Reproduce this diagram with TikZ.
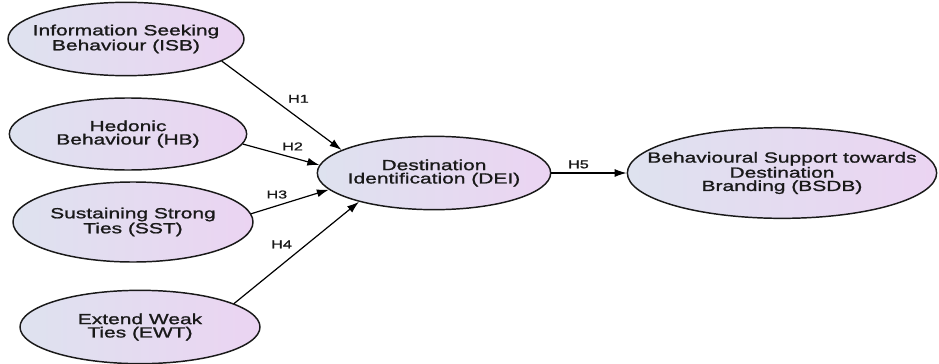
\documentclass[tikz,border=0pt]{standalone}
\usepackage{fontspec}
\newfontfamily\diagfont[FakeStretch=1.43, FakeBold=1.2]{Liberation Sans}
\usetikzlibrary{arrows.meta}
\usetikzlibrary{shapes.geometric}
\definecolor{fillleft}{RGB}{222,226,239}
\definecolor{fillright}{RGB}{235,212,242}
\tikzset{
      construct/.style={ellipse, draw=black!90, line width=1.1pt, left color=fillleft, right color=fillright,
            minimum width=177pt, minimum height=55pt, inner sep=0pt},
      every label/.style={font=\diagfont\fontsize{11}{10}\selectfont, align=center, inner sep=0pt, text=black!90},
      path/.style={draw=black, line width=0.9pt, -{Latex[length=9pt, width=6pt]}},
      hyp/.style={font=\diagfont\fontsize{8.5}{9}\selectfont, inner sep=0pt, text=black!90},
}
\begin{document}
\begin{tikzpicture}[x=0.75pt, y=-0.75pt]
        \useasboundingbox (0,0) rectangle (939,364);

        % Draw the constructs
        \node[construct, label=center:{Information Seeking\\Behaviour (ISB)}] (isb) at (126,39) {};
        \node[construct, minimum width=178pt, minimum height=54pt, label=center:{Hedonic\\Behaviour (HB)}] (hb) at (128,134) {};
        \node[construct, minimum width=180pt, minimum height=60pt, label=center:{Sustaining Strong\\Ties (SST)}] (sst) at (133,222) {};
        \node[construct, minimum width=180pt, label=center:{Extend Weak\\Ties (EWT)}] (ewt) at (140,327) {};
        \node[construct, minimum width=175pt, label=center:{Destination\\Identification (DEI)}] (dei) at (434,173) {};
        \node[construct, minimum width=232pt, minimum height=68pt, label=center:{Behavioural Support towards\\Destination\\Branding (BSDB)}] (bsdb) at (782,173) {};

        % Draw the paths
        \draw[path] (isb.-13) -- (dei.166) node[hyp, pos=0.64, above=11pt] {H1};
        \draw[path] (hb.-5) -- (dei.176) node[hyp, pos=0.65, above=5pt] {H2};
        \draw[path] (sst.4) -- (dei.-171) node[hyp, pos=0.33, above=5pt] {H3};
        \draw[path] (ewt.14) -- (dei.-159) node[hyp, pos=0.38, above=12pt] {H4};
        \draw[path] (dei) -- (bsdb) node[hyp, pos=0.36, above=3pt] {H5};

    \end{tikzpicture}
\end{document}
